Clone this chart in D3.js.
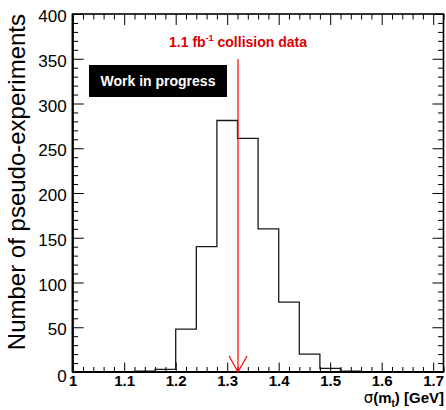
<!DOCTYPE html>
<html>
<head>
<meta charset="utf-8">
<script src="https://cdn.jsdelivr.net/npm/d3@7"></script>
<style>
  body { margin: 0; background: #fff; }
  svg { display: block; font-family: "Liberation Sans", Arial, sans-serif; }
  .axis path.domain { display: none; }
  .axis line { stroke: #000; stroke-width: 1; }
</style>
</head>
<body>
<svg id="chart" width="446" height="410"></svg>
<script>
// Pseudo-experiment histogram of sigma(m_t)

const binLo = [1.00, 1.04, 1.08, 1.12, 1.16, 1.20, 1.24, 1.28, 1.32,
               1.36, 1.40, 1.44, 1.48, 1.52, 1.56, 1.60, 1.64, 1.68];
const binWidth = 0.04;
const counts = [0, 0, 0, 1, 3, 48, 140, 281, 261,
                160, 78, 20, 4, 1, 0, 0, 0, 0];

const xTicks = [1, 1.1, 1.2, 1.3, 1.4, 1.5, 1.6, 1.7];
const yTicks = [0, 50, 100, 150, 200, 250, 300, 350, 400];

const dataValue = 1.321;   // measured sigma in collision data
const dataLabel = "1.1 fb";

const svg = d3.select("#chart");
const L = 72.7, R = 443.5, T = 14, B = 372;

const x = d3.scaleLinear().domain([1, 1.72]).range([L, R]);
const y = d3.scaleLinear().domain([0, 400]).range([B, T]);

const xMinor = d3.range(1, 1.7201, 0.02).filter(v => Math.abs(v * 10 - Math.round(v * 10)) > 1e-6);
const yMinor = d3.range(0, 401, 10).filter(v => v % 50 !== 0);

// ── Histogram ──────────────────────────────────────────────────────────
let pts = [[x(binLo[0]), y(0)]];
binLo.forEach((lo, i) => {
  pts.push([x(lo), y(counts[i])]);
  pts.push([x(lo + binWidth), y(counts[i])]);
});
pts.push([x(binLo[binLo.length - 1] + binWidth), y(0)]);

svg.append("path")
  .attr("d", d3.line()(pts))
  .attr("fill", "none")
  .attr("stroke", "#1a1a1a")
  .attr("stroke-width", 1.3);

// ── Axes ───────────────────────────────────────────────────────────────
const fmtX = d => d === 1 ? "1" : d3.format(".1f")(d);

// bottom major with labels
const gx = svg.append("g").attr("class", "axis").attr("transform", `translate(0,${B})`)
  .call(d3.axisBottom(x).tickValues(xTicks).tickSize(-9.5).tickSizeOuter(0).tickPadding(3).tickFormat(fmtX));
gx.selectAll("text").attr("font-size", 15).attr("font-weight", "bold").attr("fill", "#000")
  .attr("font-family", "Liberation Sans, Arial, sans-serif");
svg.append("g").attr("class", "axis").attr("transform", `translate(0,${B})`)
  .call(d3.axisBottom(x).tickValues(xMinor).tickSize(-5).tickSizeOuter(0).tickFormat(""));
// top ticks
svg.append("g").attr("class", "axis").attr("transform", `translate(0,${T})`)
  .call(d3.axisTop(x).tickValues(xTicks).tickSize(-11).tickSizeOuter(0).tickFormat(""));
svg.append("g").attr("class", "axis").attr("transform", `translate(0,${T})`)
  .call(d3.axisTop(x).tickValues(xMinor).tickSize(-5.5).tickSizeOuter(0).tickFormat(""));

// left major with labels
const gy = svg.append("g").attr("class", "axis").attr("transform", `translate(${L},0)`)
  .call(d3.axisLeft(y).tickValues(yTicks).tickSize(-11).tickSizeOuter(0).tickPadding(6));
gy.selectAll("text").attr("font-size", 17).attr("fill", "#000")
  .attr("font-family", "Liberation Sans, Arial, sans-serif")
  .attr("dy", d => d === 0 ? "0.55em" : "0.45em");
svg.append("g").attr("class", "axis").attr("transform", `translate(${L},0)`)
  .call(d3.axisLeft(y).tickValues(yMinor).tickSize(-5.5).tickSizeOuter(0).tickFormat(""));
// right ticks
svg.append("g").attr("class", "axis").attr("transform", `translate(${R},0)`)
  .call(d3.axisRight(y).tickValues(yTicks).tickSize(-11).tickSizeOuter(0).tickFormat(""));
svg.append("g").attr("class", "axis").attr("transform", `translate(${R},0)`)
  .call(d3.axisRight(y).tickValues(yMinor).tickSize(-5.5).tickSizeOuter(0).tickFormat(""));

// frame
svg.append("rect")
  .attr("x", L).attr("y", T).attr("width", R - L).attr("height", B - T)
  .attr("fill", "none").attr("stroke", "#000").attr("stroke-width", 1.6);
svg.append("line").attr("x1", L).attr("x2", R).attr("y1", B).attr("y2", B)
  .attr("stroke", "#000").attr("stroke-width", 2.2);
svg.append("line").attr("x1", L).attr("x2", L).attr("y1", T).attr("y2", B)
  .attr("stroke", "#000").attr("stroke-width", 2.2);

// axis titles
svg.append("text")
  .attr("transform", `translate(25,${T}) rotate(-90)`)
  .attr("text-anchor", "end")
  .attr("font-size", 24)
  .attr("fill", "#000")
  .text("Number of pseudo-experiments");

const xt = svg.append("text")
  .attr("x", 444).attr("y", 403)
  .attr("text-anchor", "end")
  .attr("font-size", 15)
  .attr("font-weight", "bold")
  .attr("fill", "#000");
xt.append("tspan").attr("font-weight", "normal").attr("font-family", "DejaVu Sans, sans-serif").text("σ");
xt.append("tspan").text("(m");
xt.append("tspan").attr("font-size", 10).attr("dy", 4).text("t");
xt.append("tspan").attr("dy", -4).text(") [GeV]");

// ── Data arrow ─────────────────────────────────────────────────────────
const ax = x(dataValue);
svg.append("line")
  .attr("x1", ax).attr("x2", ax).attr("y1", 59).attr("y2", y(0))
  .attr("stroke", "#f00").attr("stroke-width", 1.2);
svg.append("path")
  .attr("d", d3.line()([[ax - 9, y(0) - 16], [ax, y(0)], [ax + 9, y(0) - 16]]))
  .attr("fill", "none").attr("stroke", "#f00").attr("stroke-width", 1.2);

const lbl = svg.append("text")
  .attr("x", ax).attr("y", 46.5)
  .attr("text-anchor", "middle")
  .attr("font-size", 14)
  .attr("font-weight", "bold")
  .attr("fill", "#dd0000");
lbl.append("tspan").text(dataLabel);
lbl.append("tspan").attr("font-size", 9).attr("dy", -6).text("-1");
lbl.append("tspan").attr("dy", 6).text(" collision data");

// ── Work in progress label ─────────────────────────────────────────────
svg.append("rect")
  .attr("x", 89).attr("y", 65).attr("width", 138).attr("height", 32)
  .attr("fill", "#000");
svg.append("text")
  .attr("x", 158).attr("y", 86)
  .attr("text-anchor", "middle")
  .attr("font-size", 14)
  .attr("font-weight", "bold")
  .attr("fill", "#fff")
  .text("Work in progress");
</script>
</body>
</html>
